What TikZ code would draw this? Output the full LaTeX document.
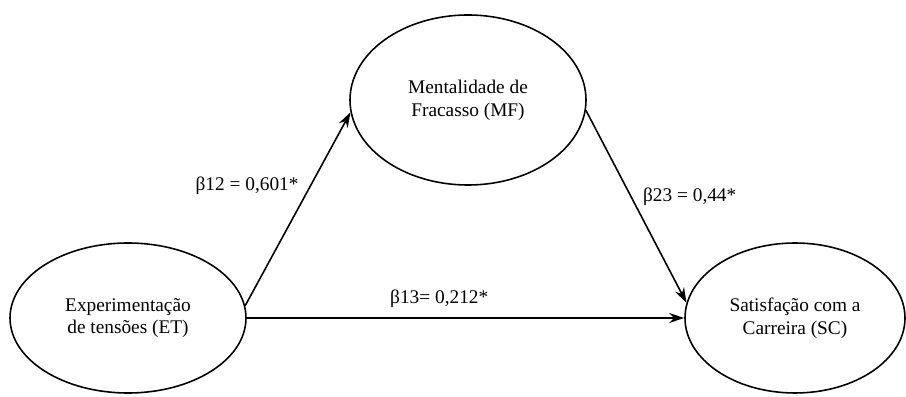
\documentclass[tikz,border=0pt]{standalone}
\usepackage{fontspec}
\setmainfont{Liberation Serif}
\usepackage{tikz}
\usetikzlibrary{arrows.meta, positioning, shapes.geometric}

\begin{document}
\begin{tikzpicture}[every node/.style={font=\fontsize{11}{13}\selectfont},
      var/.style={draw, ellipse, line width=0.9pt, align=center, inner sep=0pt},
      ar/.style={-{Stealth[length=3mm, width=2mm]}, draw, line width=0.9pt}]
    \useasboundingbox (0,0) rectangle (18.12,7.94);
    \node[var, minimum width=4.72cm, minimum height=3cm] (et) at (2.56,1.58) {Experimentação\\de tensões (ET)};
    \node[var, minimum width=4.72cm, minimum height=3.4cm] (mf) at (9.36,5.94) {Mentalidade de\\Fracasso (MF)};
    \node[var, minimum width=4.4cm, minimum height=3cm] (sc) at (15.9,1.58) {Satisfação com a\\Carreira (SC)};
    \draw[ar] (et.6) -- node[pos=0.62, left=3pt] (b12) {β12 = 0,601*} (mf.186);
    \draw[ar] (mf.355) -- node[pos=0.45, right=3pt] (b23) {β23 = 0,44*} (sc.172);
    \draw[ar] (et.east) -- node[pos=0.44, above=2pt] (b13) {β13= 0,212*} (sc.west);
  \end{tikzpicture}
\end{document}
